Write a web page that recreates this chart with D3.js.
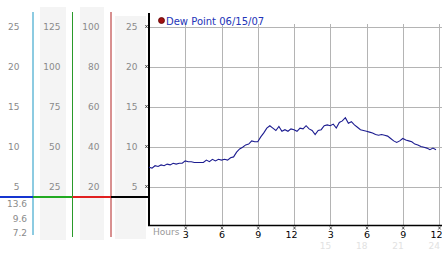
<!DOCTYPE html>
<html>
<head>
<meta charset="utf-8">
<script src="https://cdn.jsdelivr.net/npm/d3@7"></script>
<style>
  html, body { margin: 0; padding: 0; background: #fff; }
  svg { display: block; }
  text { font-family: "DejaVu Sans", Verdana, sans-serif; }
</style>
</head>
<body>
<svg id="chart" width="442" height="253"></svg>
<script>
// dew point readings, one every quarter hour from midnight
const stepHours = 0.25;
const dewPoint = [
  7.4, 7.3, 7.6, 7.5, 7.7, 7.6, 7.8, 7.7, 7.9, 7.8, 7.9, 7.9,
  8.2, 8.1, 8.1, 8.0, 8.0, 8.0, 8.0, 8.3, 8.1, 8.4, 8.2, 8.4,
  8.3, 8.4, 8.3, 8.6, 8.7, 9.3, 9.7, 9.9, 10.2, 10.3, 10.7, 10.6,
  10.6, 11.2, 11.7, 12.3, 12.6, 12.3, 12.0, 12.5, 11.9, 12.1, 11.9, 12.2,
  12.1, 11.9, 12.3, 12.2, 12.6, 12.2, 12.0, 11.5, 12.0, 12.1, 12.6, 12.7,
  12.6, 12.8, 12.3, 13.0, 13.2, 13.6, 12.9, 13.1, 12.7, 12.4, 12.1, 12.0,
  11.9, 11.8, 11.7, 11.5, 11.4, 11.5, 11.4, 11.3, 11.0, 10.7, 10.5, 10.7,
  11.0, 10.8, 10.7, 10.6, 10.3, 10.2, 10.0, 9.9, 9.8, 9.6, 9.8, 9.6
];

const levels = [25, 20, 15, 10, 5];
const col2Labels = [125, 100, 75, 50, 25];
const col3Labels = [100, 80, 60, 40, 20];
const summary = [13.6, 9.6, 7.2];
const hourTicks = [3, 6, 9, 12, 15, 18, 21, 24];
const hourLabels = ['3', '6', '9', '12', '3', '6', '9', '12'];
const pmTicks = [15, 18, 21, 24];
const legendText = 'Dew Point 06/15/07';

const svg = d3.select('#chart');

const x = d3.scaleLinear().domain([0, 24]).range([149, 439]);
const y = d3.scaleLinear().domain([0, 25]).range([226.5, 26.5]);

// left scale panel backgrounds
svg.append('rect').attr('x', 40).attr('y', 7).attr('width', 26).attr('height', 233).attr('fill', '#f4f4f4');
svg.append('rect').attr('x', 80).attr('y', 7).attr('width', 24).attr('height', 233).attr('fill', '#f4f4f4');
svg.append('rect').attr('x', 115).attr('y', 16).attr('width', 31).attr('height', 223).attr('fill', '#f4f4f4');

// coloured dividers
const dividers = [
  {x: 33, y2: 235, c: '#1b97c4'},
  {x: 72.5, y2: 237, c: '#2a9a2a'},
  {x: 111, y2: 237, c: '#b22222'}
];
svg.selectAll('.divider').data(dividers).enter().append('line')
  .attr('x1', d => d.x).attr('x2', d => d.x)
  .attr('y1', 12).attr('y2', d => d.y2)
  .attr('stroke', d => d.c).attr('stroke-width', 1);

// scale labels
function labelColumn(vals, right) {
  svg.append('g').selectAll('text').data(vals).enter().append('text')
    .attr('x', right)
    .attr('y', (d, i) => y(levels[i]) + 3.3)
    .attr('text-anchor', 'end')
    .attr('font-size', 9)
    .attr('fill', '#8a8a8a')
    .text(d => d);
}
labelColumn(levels, 19.5);
labelColumn(col2Labels, 60.5);
labelColumn(col3Labels, 99.5);
labelColumn(levels, 137.5);

// summary values under the coloured bar
svg.append('g').selectAll('text').data(summary).enter().append('text')
  .attr('x', 27)
  .attr('y', (d, i) => 207.3 + i * 14.5)
  .attr('text-anchor', 'end')
  .attr('font-size', 9)
  .attr('fill', '#8a8a8a')
  .text(d => d);

// coloured horizontal bar
const barSegs = [
  {x1: 0, x2: 33, c: '#1535d0'},
  {x1: 33, x2: 72.5, c: '#22aa22'},
  {x1: 72.5, x2: 111, c: '#e02020'},
  {x1: 111, x2: 149, c: '#000'}
];
svg.selectAll('.seg').data(barSegs).enter().append('line')
  .attr('x1', d => d.x1).attr('x2', d => d.x2)
  .attr('y1', 197).attr('y2', 197)
  .attr('stroke', d => d.c).attr('stroke-width', 2);

// grid
svg.append('g').selectAll('line').data(levels).enter().append('line')
  .attr('x1', x(0)).attr('x2', 442)
  .attr('y1', d => Math.round(y(d)) + 0.5).attr('y2', d => Math.round(y(d)) + 0.5)
  .attr('stroke', '#b4b4b4').attr('stroke-width', 1);
svg.append('g').selectAll('line').data(hourTicks).enter().append('line')
  .attr('x1', d => Math.round(x(d)) + 0.5).attr('x2', d => Math.round(x(d)) + 0.5)
  .attr('y1', 24).attr('y2', 225)
  .attr('stroke', '#b4b4b4').attr('stroke-width', 1);

// axes
svg.append('line').attr('x1', 149).attr('x2', 149).attr('y1', 13).attr('y2', 226)
  .attr('stroke', '#000').attr('stroke-width', 2);
svg.append('line').attr('x1', 148).attr('x2', 442).attr('y1', 225.5).attr('y2', 225.5)
  .attr('stroke', '#000').attr('stroke-width', 1.5);

// small tick markers
const mark = 'M-1.2,-1.5L1.2,1.5M1.2,-1.5L-1.2,1.5';
svg.append('g').selectAll('path').data(levels).enter().append('path')
  .attr('transform', d => `translate(146.5,${y(d)})`)
  .attr('d', mark).attr('stroke', '#333').attr('stroke-width', 0.8).attr('fill', 'none');
svg.append('g').selectAll('path').data(hourTicks).enter().append('path')
  .attr('transform', d => `translate(${x(d) + 0.5},228)`)
  .attr('d', mark).attr('stroke', '#333').attr('stroke-width', 0.8).attr('fill', 'none');

// hour labels
svg.append('g').selectAll('text').data(hourTicks).enter().append('text')
  .attr('x', d => x(d) + 3.5)
  .attr('y', 238)
  .attr('text-anchor', 'end')
  .attr('font-size', 9.5)
  .attr('fill', '#000')
  .text((d, i) => hourLabels[i]);
svg.append('g').selectAll('text').data(pmTicks).enter().append('text')
  .attr('x', d => x(d) + 1)
  .attr('y', 249)
  .attr('text-anchor', 'end')
  .attr('font-size', 9)
  .attr('fill', '#e2e2e2')
  .text(d => d);
svg.append('text').attr('x', 153).attr('y', 234.5)
  .attr('font-size', 9).attr('fill', '#999').text('Hours');

// dew point line
const line = d3.line()
  .x((d, i) => x(i * stepHours))
  .y(d => y(d));
svg.append('path').datum(dewPoint)
  .attr('d', line)
  .attr('fill', 'none')
  .attr('stroke', '#1c1c90')
  .attr('stroke-width', 1.1);

// legend
svg.append('circle').attr('cx', 161.5).attr('cy', 20.5).attr('r', 3)
  .attr('fill', '#a01010').attr('stroke', '#5a0000').attr('stroke-width', 0.8);
svg.append('text').attr('x', 166).attr('y', 24.5)
  .attr('font-size', 10).attr('fill', '#2434b8').text(legendText);
</script>
</body>
</html>
